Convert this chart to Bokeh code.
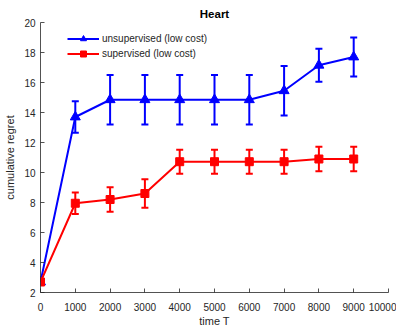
from bokeh.plotting import figure
from bokeh.models import ColumnDataSource, Whisker, TeeHead, Range1d, FixedTicker, Legend, LegendItem
from bokeh.embed import file_html
from bokeh.resources import INLINE

# ---- data ----
time_T = [0, 1000, 2000, 3000, 4000, 5000, 6000, 7000, 8000, 9000]
unsup_mean = [2.7, 13.7, 14.85, 14.85, 14.85, 14.85, 14.85, 15.45, 17.15, 17.7]
unsup_err = [0.0, 1.05, 1.65, 1.65, 1.65, 1.65, 1.65, 1.65, 1.1, 1.3]
sup_mean = [2.7, 7.95, 8.2, 8.6, 10.72, 10.72, 10.72, 10.72, 10.9, 10.9]
sup_err = [0.0, 0.72, 0.82, 0.95, 0.8, 0.8, 0.8, 0.8, 0.82, 0.82]
x_ticks = [0, 1000, 2000, 3000, 4000, 5000, 6000, 7000, 8000, 9000, 10000]
y_ticks = [2, 4, 6, 8, 10, 12, 14, 16, 18, 20]

FONT = "Liberation Sans"
DARK = "#262626"
BLUE = "#0000FF"
RED = "#FF0000"

p = figure(width=396, height=329, output_backend="svg", toolbar_location=None,
           x_range=Range1d(0, 10000), y_range=Range1d(2, 20),
           min_border_left=40, min_border_right=8, min_border_top=22, min_border_bottom=34)
p.title.text = "Heart"
p.title.align = "center"
p.title.text_font = FONT
p.title.text_font_size = "11.5px"
p.title.text_font_style = "bold"
p.title.text_color = "black"
p.title.standoff = 5
p.title.offset = 0
p.outline_line_color = None
p.background_fill_color = "white"
p.border_fill_color = "white"
p.xgrid.visible = False
p.ygrid.visible = False

for ax in (p.xaxis[0], p.yaxis[0]):
    ax.axis_line_color = DARK
    ax.axis_line_width = 0.8
    ax.major_tick_line_color = DARK
    ax.major_tick_line_width = 0.8
    ax.major_tick_in = 4
    ax.major_tick_out = 0
    ax.minor_tick_line_color = None
    ax.major_label_text_font = FONT
    ax.major_label_text_font_size = "10px"
    ax.major_label_text_color = DARK
    ax.axis_label_text_font = FONT
    ax.axis_label_text_font_size = "11px"
    ax.axis_label_text_font_style = "normal"
    ax.axis_label_text_color = DARK

p.xaxis.ticker = FixedTicker(ticks=x_ticks)
p.yaxis.ticker = FixedTicker(ticks=y_ticks)
p.xaxis.axis_label = "time T"
p.yaxis.axis_label = "cumulative regret"
p.xaxis.major_label_standoff = 10
p.xaxis.axis_label_standoff = 1
p.yaxis.major_label_standoff = 5
p.yaxis.axis_label_standoff = 5

# error bars (skip the first point, which has no spread)
def whisk(mean, err, color):
    src = ColumnDataSource(dict(
        x=time_T[1:],
        lo=[m - e for m, e in zip(mean[1:], err[1:])],
        hi=[m + e for m, e in zip(mean[1:], err[1:])],
    ))
    w = Whisker(source=src, base="x", upper="hi", lower="lo", dimension="height",
                line_color=color, line_width=2,
                upper_head=TeeHead(size=7, line_color=color, line_width=2),
                lower_head=TeeHead(size=7, line_color=color, line_width=2))
    p.add_layout(w)

whisk(unsup_mean, unsup_err, BLUE)
l1 = p.line(time_T, unsup_mean, line_color=BLUE, line_width=2)
m1 = p.scatter(time_T, unsup_mean, marker="triangle", size=10, fill_color=BLUE, line_color=BLUE)

whisk(sup_mean, sup_err, RED)
l2 = p.line(time_T, sup_mean, line_color=RED, line_width=2)
m2 = p.scatter(time_T, sup_mean, marker="square", size=8, fill_color=RED, line_color=RED)

legend = Legend(items=[
    LegendItem(label="unsupervised (low cost)", renderers=[l1, m1]),
    LegendItem(label="supervised (low cost)", renderers=[l2, m2]),
], location=(27, 231))
legend.border_line_color = None
legend.background_fill_alpha = 0
legend.label_text_font = FONT
legend.label_text_font_size = "10px"
legend.label_text_color = DARK
legend.glyph_width = 32
legend.glyph_height = 15
legend.label_height = 15
legend.label_standoff = 3
legend.spacing = 0
legend.padding = 0
legend.margin = 0
p.add_layout(legend, "center")

open("out.html", "w").write(file_html(p, INLINE))
